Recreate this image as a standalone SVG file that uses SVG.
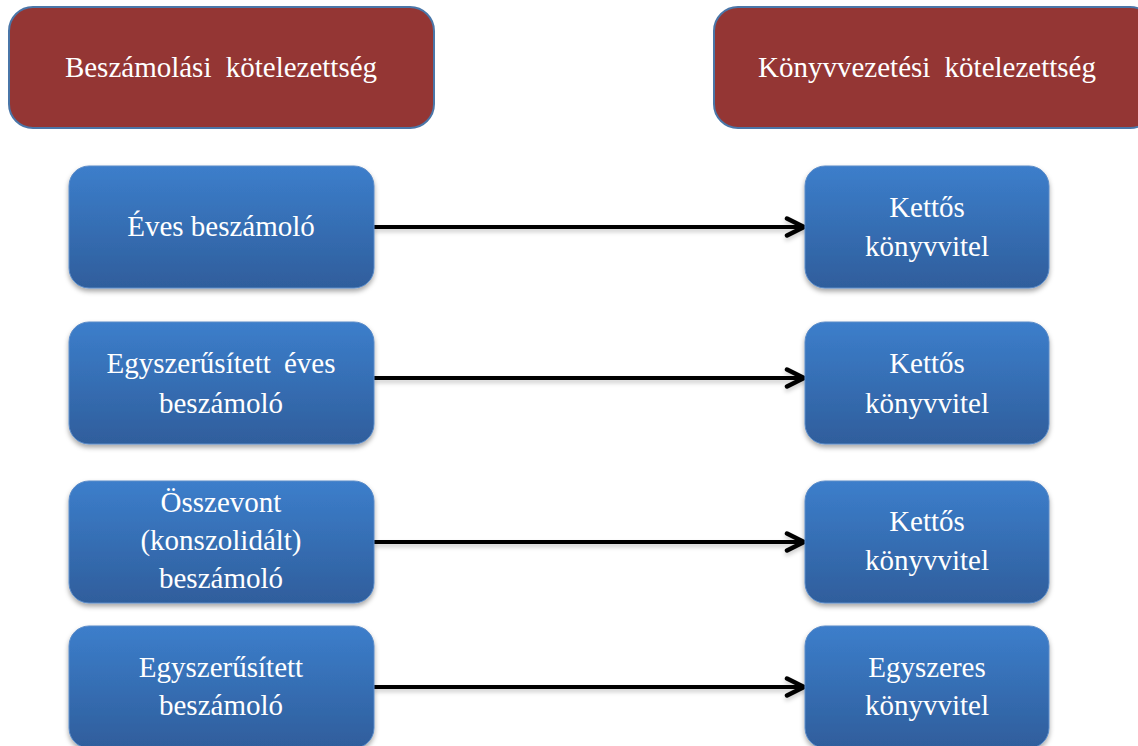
<svg xmlns="http://www.w3.org/2000/svg" width="1138" height="746" viewBox="0 0 1138 746">
  <style>
    .hdr { fill: #943634; stroke: #4A76A8; stroke-width: 2; }
    .box { fill: url(#blueGrad); stroke: #5A8BC8; stroke-width: 1; filter: url(#shadow); }
    text { font-family: "Liberation Serif", "Times New Roman", serif; font-size: 29px; fill: #ffffff; text-anchor: middle; }
    .conn { stroke: #000000; stroke-width: 4; fill: none; marker-end: url(#arrow); }
  </style>
  <defs>
    <linearGradient id="blueGrad" x1="0" y1="0" x2="0" y2="1">
      <stop offset="0" stop-color="#3C7ECB"/>
      <stop offset="1" stop-color="#2F5E9C"/>
    </linearGradient>
    <filter id="shadow" x="-10%" y="-10%" width="120%" height="130%">
      <feDropShadow dx="0" dy="3" stdDeviation="2.5" flood-color="#000000" flood-opacity="0.35"/>
    </filter>
    <filter id="lshadow" x="-5%" y="-100%" width="110%" height="300%">
      <feDropShadow dx="0" dy="3" stdDeviation="2" flood-color="#000000" flood-opacity="0.2"/>
    </filter>
    <marker id="arrow" viewBox="0 0 24 24" refX="21" refY="12" markerWidth="24" markerHeight="24" markerUnits="userSpaceOnUse" orient="auto">
      <path d="M4,3.5 L21,12 L4,20.5" fill="none" stroke="#000000" stroke-width="4.5" stroke-linecap="round" stroke-linejoin="round"/>
    </marker>
  </defs>
  <rect width="1138" height="746" fill="#ffffff"/>

  <g id="connectors" filter="url(#lshadow)">
    <line class="conn" x1="374" y1="227" x2="804" y2="227"/>
    <line class="conn" x1="374" y1="378" x2="804" y2="378"/>
    <line class="conn" x1="374" y1="542" x2="804" y2="542"/>
    <line class="conn" x1="374" y1="687" x2="804" y2="687"/>
  </g>

  <g id="hdr-left">
    <rect class="hdr" x="9" y="7" width="425" height="121" rx="24"/>
    <text x="221" y="77" word-spacing="7">Beszámolási kötelezettség</text>
  </g>
  <g id="hdr-right">
    <rect class="hdr" x="714" y="7" width="440" height="121" rx="24"/>
    <text x="927" y="77" word-spacing="7">Könyvvezetési kötelezettség</text>
  </g>

  <g id="left1">
    <rect class="box" x="69" y="166" width="305" height="122" rx="20"/>
    <text x="221" y="236">Éves beszámoló</text>
  </g>
  <g id="left2">
    <rect class="box" x="69" y="322" width="305" height="122" rx="20"/>
    <text x="221" y="373" word-spacing="6">Egyszerűsített éves</text>
    <text x="221" y="413">beszámoló</text>
  </g>
  <g id="left3">
    <rect class="box" x="69" y="481" width="305" height="122" rx="20"/>
    <text x="221" y="512">Összevont</text>
    <text x="221" y="550">(konszolidált)</text>
    <text x="221" y="588">beszámoló</text>
  </g>
  <g id="left4">
    <rect class="box" x="69" y="626" width="305" height="122" rx="20"/>
    <text x="221" y="677">Egyszerűsített</text>
    <text x="221" y="715">beszámoló</text>
  </g>

  <g id="right1">
    <rect class="box" x="805" y="166" width="244" height="122" rx="20"/>
    <text x="927" y="217">Kettős</text>
    <text x="927" y="256">könyvvitel</text>
  </g>
  <g id="right2">
    <rect class="box" x="805" y="322" width="244" height="122" rx="20"/>
    <text x="927" y="373">Kettős</text>
    <text x="927" y="413">könyvvitel</text>
  </g>
  <g id="right3">
    <rect class="box" x="805" y="481" width="244" height="122" rx="20"/>
    <text x="927" y="531">Kettős</text>
    <text x="927" y="570">könyvvitel</text>
  </g>
  <g id="right4">
    <rect class="box" x="805" y="626" width="244" height="122" rx="20"/>
    <text x="927" y="677">Egyszeres</text>
    <text x="927" y="715">könyvvitel</text>
  </g>
</svg>
